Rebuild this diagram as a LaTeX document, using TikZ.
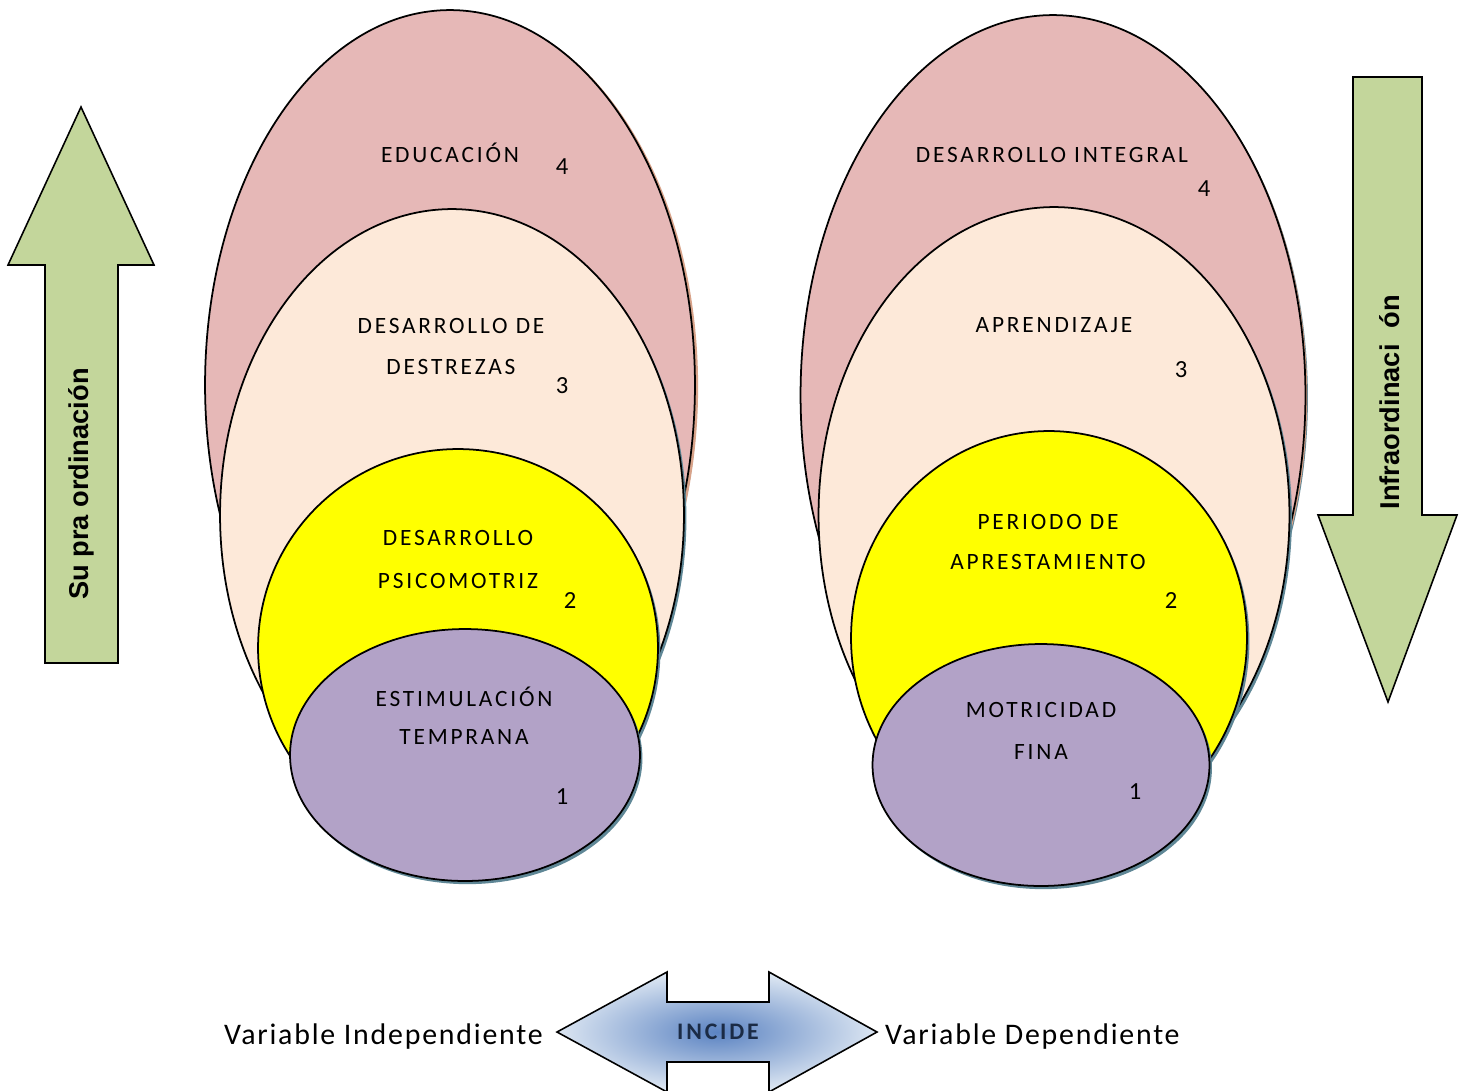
\documentclass[tikz,border=0pt]{standalone}
\usepackage{fontspec}
\setmainfont{Carlito}
\newfontfamily\capsfont[LetterSpace=12]{Carlito}
\newfontfamily\varfont[LetterSpace=6]{Carlito}
\newfontfamily\arrowfont{Liberation Sans}
\usepackage{tikz}
\usetikzlibrary{positioning,shapes.geometric,shadows}
\definecolor{pinkfill}{HTML}{E6B8B7}
\definecolor{peachfill}{HTML}{FDE9D9}
\definecolor{yellowfill}{HTML}{FFFF00}
\definecolor{purplefill}{HTML}{B2A2C7}
\definecolor{greenfill}{HTML}{C3D69B}
\definecolor{shadowblue}{HTML}{5F8796}
\definecolor{shadowbrown}{HTML}{D8A38A}
\definecolor{glowin}{HTML}{5B83C2}
\definecolor{glowout}{HTML}{DCE6F2}
\definecolor{navytext}{HTML}{1B2B45}
\tikzset{%
	level/.style    = {draw, ellipse, line width=1pt, inner sep=0pt, drop shadow={shadow xshift=1.4pt, shadow yshift=-1.8pt, fill=shadowblue, opacity=1}},
	tag/.style      = {font=\capsfont\fontsize{13.3}{16}\selectfont, align=center},
	num/.style      = {font=\fontsize{14}{16}\selectfont},
	bigarrow/.style = {draw, fill=greenfill, line width=0.9pt},
	vartext/.style  = {font=\varfont\fontsize{17}{20}\selectfont},
}
\begin{document}
\begin{tikzpicture}[x=0.02cm,y=-0.02cm]
	\useasboundingbox (0,0) rectangle (1464,1090);
	% left group
	\node [level,fill=pinkfill,drop shadow={shadow xshift=1.8pt, shadow yshift=-1pt, fill=shadowbrown, opacity=1},minimum width=9.8cm,minimum height=15cm] (edu) at (450,385) {};
	\node [level,fill=peachfill,minimum width=9.28cm,minimum height=12.24cm] (destr) at (452,515) {};
	\node [level,fill=yellowfill,minimum width=8cm,minimum height=7.96cm] (psico) at (458,648) {};
	\node [level,fill=purplefill,minimum width=7cm,minimum height=5.04cm] (estim) at (465,755) {};
	\node [tag] (tedu) at (450,153) {EDUCACIÓN};
	\node [num] (nedu) at (562,167) {4};
	\node [tag] (tdes1) at (451,326) {DESARROLLO DE};
	\node [tag] (tdes2) at (451,367) {DESTREZAS};
	\node [num] (ndes) at (562,386) {3};
	\node [tag] (tpsi1) at (458,538) {DESARROLLO};
	\node [tag] (tpsi2) at (458,581) {PSICOMOTRIZ};
	\node [num] (npsi) at (570,601) {2};
	\node [tag] (test1) at (464,697) {ESTIMULACIÓN};
	\node [tag] (test2) at (464,737) {TEMPRANA};
	\node [num] (nest) at (562,797) {1};
	% right group
	\node [level,fill=pinkfill,drop shadow={shadow xshift=1pt, shadow yshift=-1pt, fill=shadowbrown, opacity=1},minimum width=10.1cm,minimum height=15.2cm] (integ) at (1053,395) {};
	\node [level,fill=peachfill,minimum width=9.42cm,minimum height=12.32cm] (aprend) at (1054,515) {};
	\node [level,fill=yellowfill,minimum width=7.92cm,minimum height=8.28cm] (apres) at (1049,638) {};
	\node [level,fill=purplefill,minimum width=6.74cm,minimum height=4.84cm] (motri) at (1041,765) {};
	\node [tag] (tint) at (1052,155) {DESARROLLO INTEGRAL};
	\node [num] (nint) at (1204,189) {4};
	\node [tag] (tapr) at (1054,325) {APRENDIZAJE};
	\node [num] (napr) at (1181,370) {3};
	\node [tag] (tper1) at (1048,522) {PERIODO DE};
	\node [tag] (tper2) at (1048,562) {APRESTAMIENTO};
	\node [num] (nper) at (1171,601) {2};
	\node [tag] (tmot1) at (1041,710) {MOTRICIDAD};
	\node [tag] (tmot2) at (1041,752) {FINA};
	\node [num] (nmot) at (1135,792) {1};
	% side arrows
	\draw [bigarrow] (45,663) -- (45,265) -- (8,265) -- (81,107) -- (154,265) -- (118,265) -- (118,663) -- cycle;
	\node [rotate=90,font=\arrowfont\bfseries\fontsize{15.5}{18}\selectfont] (supra) at (81,484) {Su pra ordinación};
	\draw [bigarrow] (1353,77) -- (1353,515) -- (1318,515) -- (1388,702) -- (1457,515) -- (1422,515) -- (1422,77) -- cycle;
	\node [rotate=90,font=\arrowfont\bfseries\fontsize{15.5}{18}\selectfont] (infra) at (1390,402) {Infraordinaci\hspace{0.6em}ón};
	% bottom double arrow
	\shadedraw [inner color=glowin,outer color=glowout,line width=0.9pt] (557,1032) -- (667,972) -- (667,1002) -- (769,1002) -- (769,972) -- (877,1032) -- (769,1092) -- (769,1062) -- (667,1062) -- (667,1092) -- cycle;
	\node [font=\capsfont\bfseries\fontsize{13.5}{16}\selectfont,text=navytext] (incide) at (718,1032) {INCIDE};
	\node [vartext,anchor=east] (vind) at (549,1037) {Variable Independiente};
	\node [vartext,anchor=west] (vdep) at (879,1037) {Variable Dependiente};
\end{tikzpicture}
\end{document}
